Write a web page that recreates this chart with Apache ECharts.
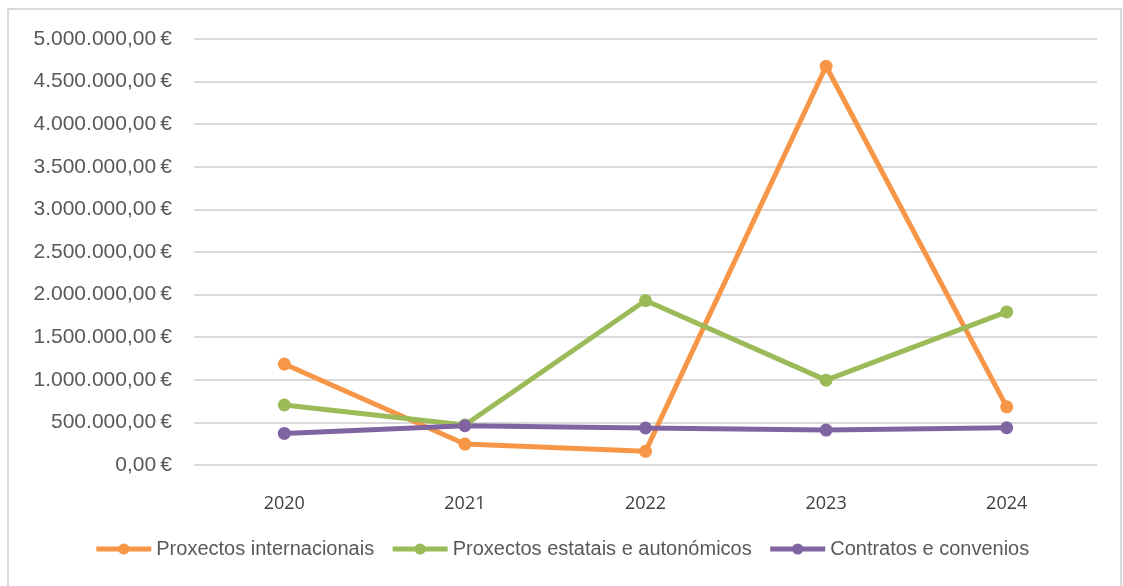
<!DOCTYPE html>
<html>
<head>
<meta charset="utf-8">
<script src="https://cdn.jsdelivr.net/npm/echarts@6/dist/echarts.min.js"></script>
<style>
html,body{margin:0;padding:0;background:#fff}
#main{width:1123px;height:586px}
</style>
</head>
<body>
<div id="main"></div>
<script>
'use strict'
// anos e valores (euros)
var anos = ['2020', '2021', '2022', '2023', '2024']
var internacionais = [1185000, 246000, 160000, 4680000, 683000]
var estatais = [704000, 470000, 1930000, 996000, 1797000]
var contratos = [371000, 461000, 434000, 410000, 437000]
var nomes = ['Proxectos internacionais', 'Proxectos estatais e autonómicos', 'Contratos e convenios']
var cores = ['#F79646', '#9BBB59', '#8064A2']

// formato 1.000.000,00 €
function euro(v) {
    var s = Math.round(v).toString().replace(/\B(?=(\d{3})+(?!\d))/g, '.')
    return s + ',00\u202f€'
}

var myChart = echarts.init(document.getElementById('main'))

function linha(nome, dados, cor) {
    return {
        name: nome,
        type: 'line',
        data: dados,
        symbol: 'circle',
        symbolSize: 13,
        lineStyle: {width: 5, color: cor},
        itemStyle: {color: cor},
        z: 3
    }
}

var option = {
    animation: false,
    graphic: [{
        type: 'rect',
        shape: {x: 8, y: 9, width: 1113, height: 600},
        style: {fill: 'none', stroke: '#d9d9d9', lineWidth: 2},
        silent: true
    }],
    color: cores,
    grid: {left: 194, right: 26, top: 39, bottom: 121, containLabel: false},
    xAxis: {
        type: 'category',
        data: anos,
        boundaryGap: true,
        axisLine: {show: false},
        axisTick: {show: false},
        axisLabel: {
            color: '#404040',
            fontSize: 18,
            fontFamily: 'Open Sans',
            margin: 30
        }
    },
    yAxis: {
        type: 'value',
        min: 0,
        max: 5000000,
        interval: 500000,
        axisLine: {show: false},
        axisTick: {show: false},
        splitLine: {lineStyle: {color: '#d9d9d9', width: 2}},
        axisLabel: {
            color: '#595959',
            fontSize: 21,
            fontFamily: 'Liberation Sans',
            margin: 22,
            formatter: euro
        }
    },
    legend: {
        bottom: 22,
        left: 'center',
        itemWidth: 55,
        itemHeight: 14,
        itemGap: 16,
        lineStyle: {width: 5},
        textStyle: {color: '#595959', fontSize: 20, fontFamily: 'Liberation Sans'},
        data: nomes
    },
    series: [
        linha(nomes[0], internacionais, cores[0]),
        linha(nomes[1], estatais, cores[1]),
        linha(nomes[2], contratos, cores[2])
    ]
}
myChart.setOption(option)
</script>
</body>
</html>
